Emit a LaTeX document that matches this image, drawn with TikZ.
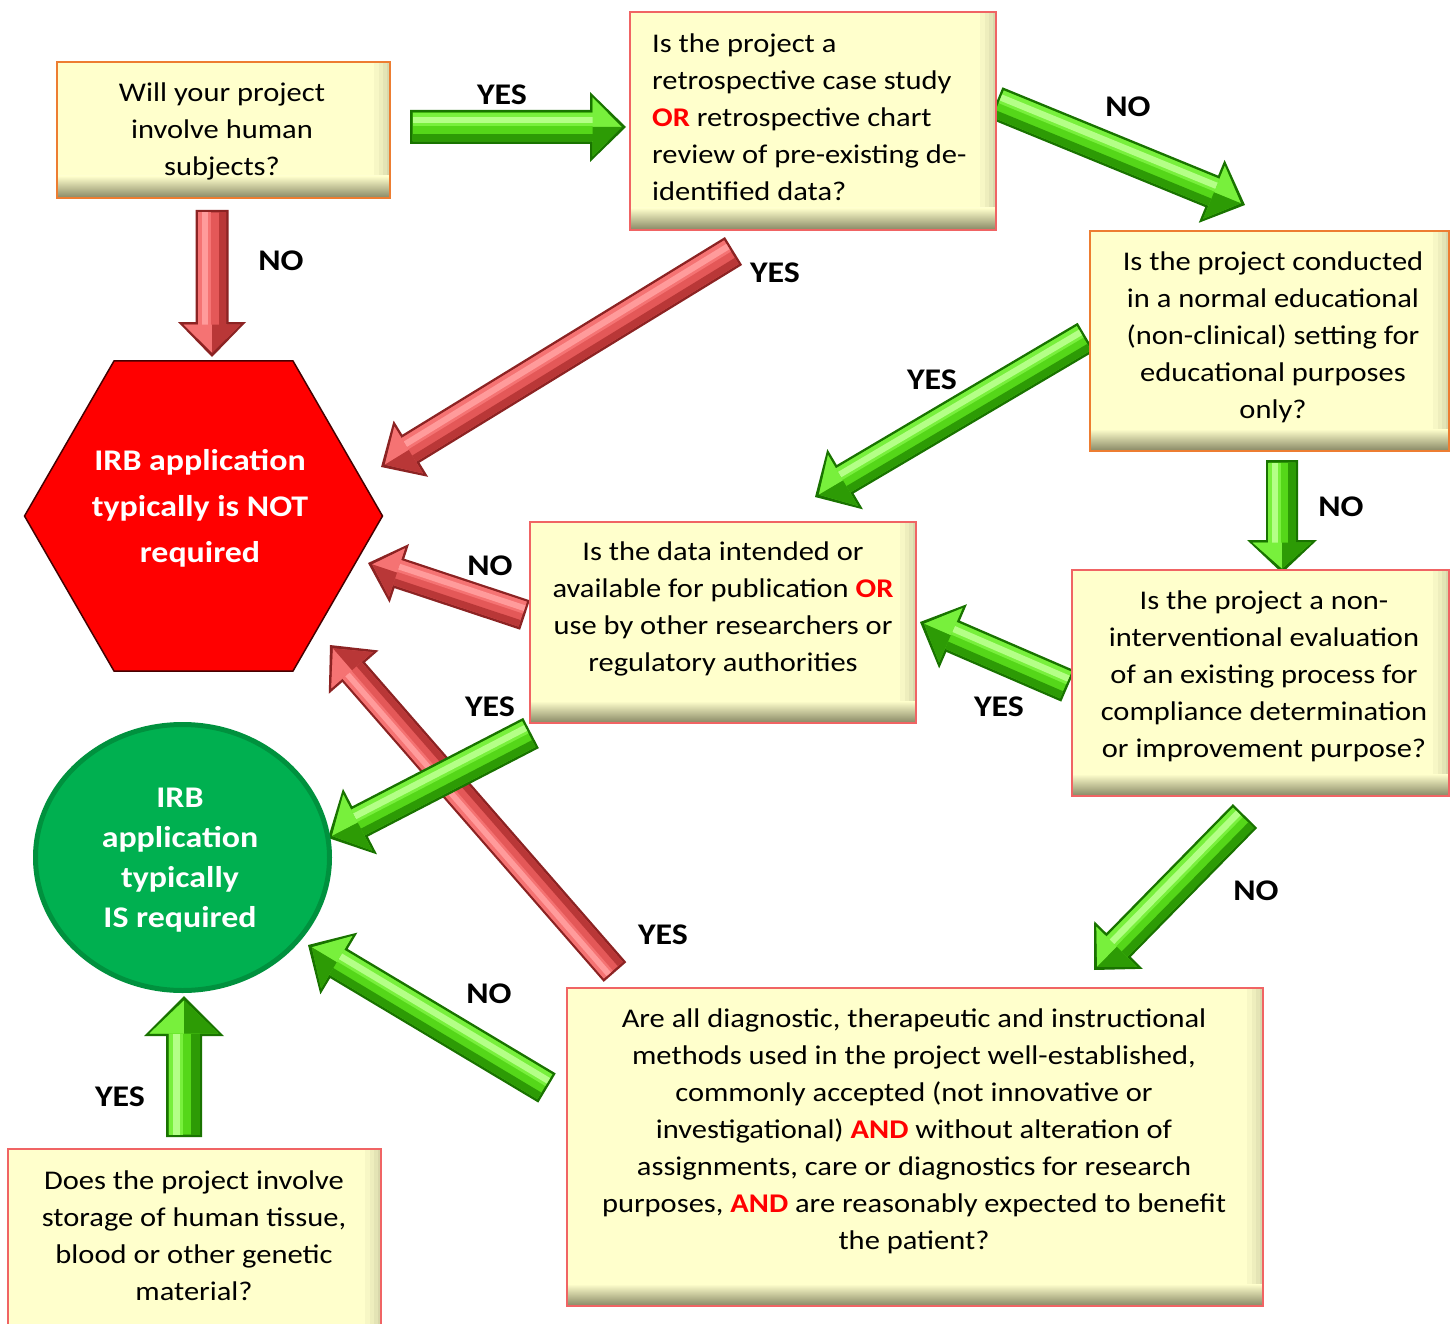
\documentclass[tikz,border=0pt]{standalone}
\usepackage{fontspec}
\setmainfont{Carlito}[FakeStretch=1.13]
\usetikzlibrary{shapes.geometric,calc}

\definecolor{gedge}{RGB}{25,115,0}
\definecolor{gmain}{RGB}{85,215,25}
\definecolor{gmid}{RGB}{120,240,60}
\definecolor{glight}{RGB}{180,255,135}
\definecolor{gdeep}{RGB}{45,155,5}
\definecolor{redge}{RGB}{140,35,35}
\definecolor{rmain}{RGB}{228,88,88}
\definecolor{rmid}{RGB}{245,115,115}
\definecolor{rlight}{RGB}{255,155,155}
\definecolor{rdeep}{RGB}{185,55,55}
\definecolor{boxfill}{RGB}{255,255,204}
\definecolor{boxshade}{RGB}{135,135,100}
\definecolor{borange}{RGB}{237,125,49}
\definecolor{bred}{RGB}{240,100,100}
\definecolor{hexred}{RGB}{255,0,0}
\definecolor{circgreen}{RGB}{0,176,80}
\definecolor{circedge}{RGB}{0,145,62}

\makeatletter
\newcommand\getvec[2]{%
  \pgfpointdiff{\pgfpointanchor{#1}{center}}{\pgfpointanchor{#2}{center}}%
  \edef\bdx{\the\pgf@x}\edef\bdy{\the\pgf@y}%
  \pgfmathsetmacro\blen{veclen(\bdx,\bdy)}%
  \pgfmathsetmacro\bang{atan2(\bdy,\bdx)}}
\makeatother

% #1 from, #2 to, #3 half shaft, #4 half head, #5 head length, #6 colour prefix, #7 light side (+1/-1)
\newcommand\barrow[7]{%
  \getvec{#1}{#2}%
  \pgfmathsetmacro\bb{\blen-#5}%
  \pgfmathsetmacro\bi{\bb+2.5}%
  \pgfmathsetmacro\tipi{\blen-4.5}%
  \pgfmathsetmacro\hsi{#3-2.5}%
  \pgfmathsetmacro\hhi{#4-5.5}%
  \pgfmathsetmacro\ma{(#7)*0.05*#3}%
  \pgfmathsetmacro\mb{(#7)*0.85*#3}%
  \pgfmathsetmacro\la{(#7)*0.22*#3}%
  \pgfmathsetmacro\lb{(#7)*0.6*#3}%
  \pgfmathsetmacro\da{(-1)*(#7)*0.4*#3}%
  \pgfmathsetmacro\db{(-1)*(#7)*\hsi}%
  \pgfmathsetmacro\hl{(#7)*\hhi}%
  \pgfmathsetmacro\hd{(-1)*(#7)*\hhi}%
  \begin{scope}[shift={(#1)},rotate=\bang]
    \fill[#6edge] (0,-#3) -- (\bb,-#3) -- (\bb,-#4) -- (\blen,0) -- (\bb,#4) -- (\bb,#3) -- (0,#3) -- cycle;
    \fill[#6main] (2.5,-\hsi) -- (\bi,-\hsi) -- (\bi,-\hhi) -- (\tipi,0) -- (\bi,\hhi) -- (\bi,\hsi) -- (2.5,\hsi) -- cycle;
    \fill[#6deep] (2.5,\da) rectangle (\bi,\db);
    \fill[#6mid] (2.5,\ma) rectangle (\bi,\mb);
    \fill[#6light] (2.5,\la) rectangle (\bi,\lb);
    \fill[#6mid] (\bi,\hl) -- (\tipi,0) -- (\bi,0) -- cycle;
    \fill[#6deep] (\bi,\hd) -- (\tipi,0) -- (\bi,0) -- cycle;
  \end{scope}}

\tikzset{
  qbox/.style={rectangle, draw=#1, line width=1.8pt, fill=boxfill, inner sep=0pt,
    path picture={
      \fill[boxshade!7!boxfill] ([xshift=-16pt]path picture bounding box.north east) rectangle (path picture bounding box.south east);
      \fill[boxshade!14!boxfill] ([xshift=-11pt]path picture bounding box.north east) rectangle (path picture bounding box.south east);
      \fill[boxshade!22!boxfill] ([xshift=-7pt]path picture bounding box.north east) rectangle (path picture bounding box.south east);
      \fill[boxshade!32!boxfill] ([xshift=-3.5pt]path picture bounding box.north east) rectangle (path picture bounding box.south east);
      \shade[top color=boxfill, bottom color=boxshade]
        ([yshift=22pt]path picture bounding box.south west) rectangle (path picture bounding box.south east);
    }},
  qtext/.style={align=center, inner sep=0pt, text=black, font=\fontsize{27}{37}\selectfont},
  lbl/.style={inner sep=0pt, text=black, font=\bfseries\fontsize{30}{36}\selectfont},
  restext/.style={align=center, inner sep=0pt, text=white, font=\bfseries\fontsize{30}{#1}\selectfont},
}
\newcommand\hot[1]{\textcolor{red}{\textbf{#1}}}

\begin{document}
\begin{tikzpicture}[x=1pt,y=-1pt]
\useasboundingbox (0,0) rectangle (1450,1324);

% arrow end points
\coordinate (a1s) at (410,127);   \coordinate (a1e) at (626,127);
\coordinate (a2s) at (212,210);   \coordinate (a2e) at (212,357);
\coordinate (a3s) at (996,103);   \coordinate (a3e) at (1245,205);
\coordinate (a4s) at (733.5,251); \coordinate (a4e) at (381,467);
\coordinate (a5s) at (1086,337); \coordinate (a5e) at (815,497);
\coordinate (a6s) at (1282,460);  \coordinate (a6e) at (1282,573);
\coordinate (a7s) at (1068,686);  \coordinate (a7e) at (920,622);
\coordinate (a8s) at (525,615);   \coordinate (a8e) at (368,563);
\coordinate (a9s) at (531,733);   \coordinate (a9e) at (328,838);
\coordinate (a10s) at (615,972);  \coordinate (a10e) at (330,645);
\coordinate (a11s) at (1245,816); \coordinate (a11e) at (1094,970);
\coordinate (a12s) at (547,1088); \coordinate (a12e) at (308,945);
\coordinate (a13s) at (184,1137); \coordinate (a13e) at (184,996);

\barrow{a1s}{a1e}{17}{35}{36}{g}{-1}
\barrow{a2s}{a2e}{16.5}{34}{35}{r}{1}
\barrow{a3s}{a3e}{17}{34}{36}{g}{-1}
\barrow{a4s}{a4e}{16.4}{33}{35}{r}{1}
\barrow{a5s}{a5e}{16.5}{35}{35}{g}{1}
\barrow{a6s}{a6e}{16}{35}{33}{g}{1}
\barrow{a7s}{a7e}{17}{35}{36}{g}{1}
\barrow{a8s}{a8e}{15.5}{31}{33}{r}{1}
\barrow{a10s}{a10e}{15}{33}{36}{r}{-1}
\barrow{a9s}{a9e}{17}{37}{36}{g}{1}
\barrow{a11s}{a11e}{17}{34}{35}{g}{1}
\barrow{a12s}{a12e}{17}{36}{36}{g}{1}
\barrow{a13s}{a13e}{18}{40}{40}{g}{-1}

% question boxes
\node[qbox=borange, minimum width=333pt, minimum height=136pt] (b1) at (223.5,130) {};
\node[qbox=bred, minimum width=366pt, minimum height=218pt] (b2) at (813,121) {};
\node[qbox=borange, minimum width=359pt, minimum height=220pt] (b3) at (1269.5,341) {};
\node[qbox=bred, minimum width=386pt, minimum height=201pt] (b4) at (723,622.5) {};
\node[qbox=bred, minimum width=377pt, minimum height=226pt] (b5) at (1260.5,683) {};
\node[qbox=bred, minimum width=696pt, minimum height=318pt] (b6) at (915,1147) {};
\node[qbox=bred, minimum width=373pt, minimum height=222pt] (b7) at (194.5,1260) {};

\node[qtext] (b1t) at (222,131) {Will your project\\involve human\\subjects?};
\node[qtext, align=left, anchor=west] (b2t) at (652,117) {Is the project a\\retrospective case study\\\hot{OR} retrospective chart\\review of pre-existing de-\\identified data?};
\node[qtext] (b3t) at (1273,337.5) {Is the project conducted\\in a normal educational\\(non-clinical) setting for\\educational purposes\\only?};
\node[qtext] (b4t) at (723,609) {Is the data intended or\\available for publication \hot{OR}\\use by other researchers or\\regulatory authorities};
\node[qtext] (b5t) at (1264,676.5) {Is the project a non-\\interventional evaluation\\of an existing process for\\compliance determination\\or improvement purpose?};
\node[qtext] (b6t) at (914,1131) {Are all diagnostic, therapeutic and instructional\\methods used in the project well-established,\\commonly accepted (not innovative or\\investigational) \hot{AND} without alteration of\\assignments, care or diagnostics for research\\purposes, \hot{AND} are reasonably expected to benefit\\the patient?};
\node[qtext] (b7t) at (194,1236) {Does the project involve\\storage of human tissue,\\blood or other genetic\\material?};

% outcomes
\node[regular polygon, regular polygon sides=6, minimum size=358pt, inner sep=0pt,
      fill=hexred, draw={rgb,255:red,70;green,0;blue,0}, line width=1.5pt] (notreq) at (203.5,516) {};
\node[restext=46] (notreqt) at (200,508) {IRB application\\typically is NOT\\required};
\node[ellipse, minimum width=294pt, minimum height=266pt, inner sep=0pt,
      fill=circgreen, draw=circedge, line width=5pt] (req) at (182.5,857.5) {};
\node[restext=40] (reqt) at (180,860) {IRB\\application\\typically\\IS required};

% labels
\node[lbl] (l1) at (502,95) {YES};
\node[lbl] (l2) at (281,261) {NO};
\node[lbl] (l3) at (1128,107) {NO};
\node[lbl] (l4) at (775,273) {YES};
\node[lbl] (l5) at (932,380) {YES};
\node[lbl] (l6) at (1341,507) {NO};
\node[lbl] (l7) at (490,566) {NO};
\node[lbl] (l8) at (490,707) {YES};
\node[lbl] (l9) at (999,707) {YES};
\node[lbl] (l10) at (1256,891) {NO};
\node[lbl] (l11) at (663,935) {YES};
\node[lbl] (l12) at (489,994) {NO};
\node[lbl] (l13) at (120,1097) {YES};
\end{tikzpicture}
\end{document}
